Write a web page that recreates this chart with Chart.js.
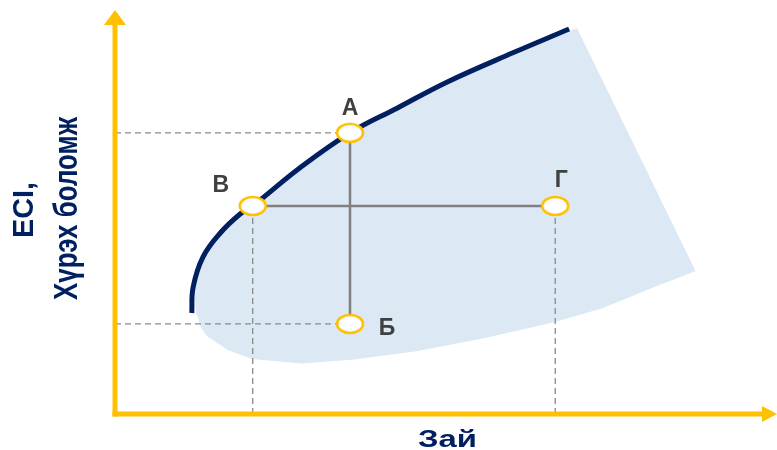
<!DOCTYPE html>
<html>
<head>
<meta charset="utf-8">
<script src="https://cdn.jsdelivr.net/npm/chart.js@4/dist/chart.umd.min.js"></script>
<style>
  html, body { margin: 0; padding: 0; background: #fff; }
  #wrap { width: 777px; height: 450px; position: relative; }
</style>
</head>
<body>
<div id="wrap"><canvas id="chart"></canvas></div>
<script>
// frontier curve (navy)
const curveX = [11.6, 11.8, 13.3, 15.9, 18.9, 20.8, 27.9, 35.5, 42.6, 50.2, 60.1, 68.6];
const curveY = [25.0, 31.4, 38.9, 44.8, 49.5, 51.5, 60.9, 69.6, 75.7, 82.2, 89.4, 95.3];

// shaded feasible region outline
const areaX = [12.2, 12.5, 13.0, 14.0, 17.1, 20.7, 28.2, 35.8, 45.8, 55.9, 66.5, 73.6, 81.1, 87.7,
  69.8, 60.1, 50.2, 42.6, 35.5, 27.9, 20.8, 15.9, 13.3, 12.0];
const areaY = [25.0, 24.0, 21.3, 19.1, 15.8, 13.6, 12.5, 13.4, 15.6, 18.8, 22.8, 26.2, 31.2, 35.4,
  95.5, 89.6, 82.4, 76.0, 69.8, 61.1, 51.7, 45.0, 39.1, 31.7];

// marked points А, Б, В, Г
const pointNames = ['А', 'Б', 'В', 'Г'];
const pointX = [35.5, 35.5, 20.8, 66.5];
const pointY = [69.6, 22.3, 51.5, 51.5];
const guideDirection = ['h', 'h', 'v', 'v'];
const connectors = [[0, 1], [2, 3]];

const xTitle = 'Зай';
const yTitle = ['ECI,', 'Хүрэх боломж'];

const COLORS = {
  axis: '#FFC000',
  curve: '#002060',
  area: '#DDE8F5',
  connector: '#808080',
  guide: '#8A8A8A',
  label: '#404040',
  title: '#002060'
};

function toPoints(xs, ys) {
  return xs.map((x, i) => ({ x, y: ys[i] }));
}

function makeEllipseMarker() {
  const c = document.createElement('canvas');
  c.width = 32;
  c.height = 24;
  const g = c.getContext('2d');
  g.beginPath();
  g.ellipse(16, 12, 13, 9, 0, 0, Math.PI * 2);
  g.fillStyle = '#fff';
  g.fill();
  g.lineWidth = 2.5;
  g.strokeStyle = COLORS.axis;
  g.stroke();
  return c;
}

function guideDataset(i) {
  const data = guideDirection[i] === 'h'
    ? [{ x: 0, y: pointY[i] }, { x: pointX[i], y: pointY[i] }]
    : [{ x: pointX[i], y: 0 }, { x: pointX[i], y: pointY[i] }];
  return {
    data,
    borderColor: COLORS.guide,
    borderWidth: 1.3,
    borderDash: [6, 4],
    pointRadius: 0,
    fill: false,
    order: 4
  };
}

function connectorDataset([a, b]) {
  return {
    data: [{ x: pointX[a], y: pointY[a] }, { x: pointX[b], y: pointY[b] }],
    borderColor: COLORS.connector,
    borderWidth: 2.5,
    pointRadius: 0,
    fill: false,
    order: 3
  };
}

function fitText(ctx, text, width) {
  const w = ctx.measureText(text).width;
  ctx.save();
  ctx.scale(width / w, 1);
  ctx.fillText(text, 0, 0);
  ctx.restore();
}

const decorPlugin = {
  id: 'decor',
  afterDatasetsDraw(chart, args, opts) {
    const { ctx, chartArea } = chart;
    const xs = chart.scales.x;
    const ys = chart.scales.y;
    const left = chartArea.left;
    const bottom = chartArea.bottom;
    const arrowLen = 14;
    const arrowHalf = 11;

    ctx.save();
    ctx.strokeStyle = COLORS.axis;
    ctx.fillStyle = COLORS.axis;
    ctx.lineWidth = 5;
    ctx.lineCap = 'butt';

    // y axis
    ctx.beginPath();
    ctx.moveTo(left, bottom + 2.5);
    ctx.lineTo(left, chartArea.top + arrowLen);
    ctx.stroke();
    ctx.beginPath();
    ctx.moveTo(left, chartArea.top);
    ctx.lineTo(left - arrowHalf, chartArea.top + arrowLen + 1);
    ctx.lineTo(left + arrowHalf, chartArea.top + arrowLen + 1);
    ctx.closePath();
    ctx.fill();

    // x axis
    ctx.beginPath();
    ctx.moveTo(left - 2.5, bottom);
    ctx.lineTo(chartArea.right - arrowLen, bottom);
    ctx.stroke();
    ctx.beginPath();
    ctx.moveTo(chartArea.right, bottom);
    ctx.lineTo(chartArea.right - arrowLen - 1, bottom - 8);
    ctx.lineTo(chartArea.right - arrowLen - 1, bottom + 8);
    ctx.closePath();
    ctx.fill();

    // point labels
    ctx.fillStyle = COLORS.label;
    ctx.font = 'bold 23px "Liberation Sans", Arial, sans-serif';
    ctx.textAlign = 'center';
    ctx.textBaseline = 'alphabetic';
    pointNames.forEach((name, i) => {
      const [dx, dy] = opts.labelOffsets[i];
      ctx.fillText(name, xs.getPixelForValue(pointX[i]) + dx, ys.getPixelForValue(pointY[i]) + dy);
    });

    // axis titles
    ctx.fillStyle = COLORS.title;
    ctx.save();
    ctx.translate(opts.xTitleAt[0], opts.xTitleAt[1]);
    ctx.font = 'bold 24px "Liberation Sans", Arial, sans-serif';
    fitText(ctx, xTitle, 59);
    ctx.restore();

    opts.yTitleAt.forEach(([px, py, size, width], i) => {
      ctx.save();
      ctx.translate(px, py);
      ctx.rotate(-Math.PI / 2);
      ctx.font = `bold ${size}px "Liberation Sans", Arial, sans-serif`;
      fitText(ctx, yTitle[i], width);
      ctx.restore();
    });

    ctx.restore();
  }
};

const marker = makeEllipseMarker();

const datasets = [
  {
    data: toPoints(pointX, pointY),
    showLine: false,
    pointStyle: marker,
    pointRadius: 12,
    order: 0
  },
  {
    data: toPoints(curveX, curveY),
    borderColor: COLORS.curve,
    borderWidth: 5,
    tension: 0.4,
    pointRadius: 0,
    fill: false,
    order: 1
  },
  ...connectors.map(connectorDataset),
  ...pointNames.map((_, i) => guideDataset(i)),
  {
    data: toPoints(areaX, areaY),
    borderWidth: 0,
    borderColor: 'rgba(0,0,0,0)',
    backgroundColor: COLORS.area,
    tension: 0,
    pointRadius: 0,
    fill: 'shape',
    order: 9
  }
];

new Chart(document.getElementById('chart'), {
  type: 'line',
  data: { datasets },
  options: {
    responsive: true,
    maintainAspectRatio: false,
    animation: false,
    events: [],
    layout: { autoPadding: false, padding: { left: 115, right: 0, top: 10, bottom: 36 } },
    scales: {
      x: { type: 'linear', min: 0, max: 100, display: false },
      y: { type: 'linear', min: 0, max: 100, display: false }
    },
    plugins: {
      legend: { display: false },
      tooltip: { enabled: false },
      decor: {
        labelOffsets: [[0, -18], [37, 11], [-32, -14], [6, -19]],
        xTitleAt: [447.5, 447],
        yTitleAt: [[33, 210, 29, 56], [77, 208.5, 33, 183]]
      }
    }
  },
  plugins: [decorPlugin]
});
</script>
</body>
</html>
